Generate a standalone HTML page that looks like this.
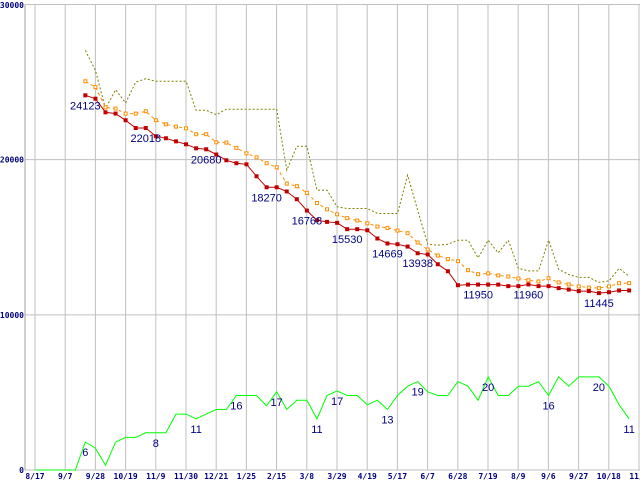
<!DOCTYPE html>
<html><head><meta charset="utf-8"><style>
html,body{margin:0;padding:0;background:#fff;width:640px;height:480px;overflow:hidden}
svg{display:block}
.ax{font-family:"DejaVu Sans Mono","Liberation Mono",monospace;font-size:8px;font-weight:bold;fill:#000080}
.lb{font-family:"Liberation Sans",sans-serif;font-size:11px;fill:#000080}
</style></head><body>
<svg id="chart" width="640" height="480" viewBox="0 0 640 480" xmlns="http://www.w3.org/2000/svg"></svg>
<script>
const xLabels=["8/17","9/7","9/28","10/19","11/9","11/30","12/21","1/25","2/15","3/8","3/29","4/19","5/17","6/7","6/28","7/19","8/9","9/6","9/27","10/18","11/1"];
const yTicks=[0,10000,20000,30000];
const startIndex=5;
const redValues=[24147,23930,23050,22970,22540,22040,22040,21510,21380,21180,20990,20730,20670,20330,19960,19770,19700,18930,18220,18220,17950,17450,16720,16100,15990,15930,15520,15520,15450,14920,14600,14550,14400,13970,13890,13260,12810,11910,11950,11950,11950,11950,11850,11850,11960,11850,11850,11720,11630,11530,11530,11400,11460,11570,11570];
const orangeValues=[25050,24680,23370,23290,22970,22970,23120,22540,22280,22130,22020,21640,21640,21120,21100,20760,20410,20150,19770,19510,18460,18290,17860,17210,16800,16480,16230,16080,15900,15690,15600,15430,15260,14660,14210,13820,13590,13460,12880,12620,12670,12540,12470,12340,12230,12150,12360,12090,11960,11830,11760,11720,11830,12040,12040];
const oliveValues=[27040,25760,23290,24510,23650,25000,25220,25050,25050,25050,25050,23180,23180,22900,23250,23250,23250,23250,23250,23250,19320,20860,20860,18030,18030,16960,16850,16850,16850,16530,16530,16530,19000,16740,14550,14490,14550,14810,14810,13670,14810,13990,14810,12990,12830,12830,14810,12940,12600,12410,12410,12090,12190,12990,12490];
const greenValues=[0,0,0,0,0,6,4.7,1,6,7,7,8,8,8,12,12,11,12,13,13,16,16,16,13.8,16.8,13,15,15,11,16,17,16,16,14,15,13,16,18,19,16.8,16,16,19,18,15,20,16,16,18,18,19,16,20,18,20,20,20,18,14,11];
const redLabelIdx=[5,11,17,23,27,31,35,38,44,49,56];
const redLabelText=["24123","22018","20680","18270","16768","15530","14669","13938","11950","11960","11445"];
const greenLabelIdx=[5,12,16,20,24,28,30,35,38,45,51,56,59];
const greenLabelText=["6","8","11","16","17","11","17","13","19","20","16","20","11"];
const greenScale=300;

const svg=document.getElementById('chart');
const NS='http://www.w3.org/2000/svg';
const X0=35,DX=10.07,Y0=470,YTOP=4.5,YMAX=30000;
function xPos(i){return X0+DX*i;}
function yPos(v){return Y0-(Y0-YTOP)*v/YMAX;}
function mk(tag,attrs){const e=document.createElementNS(NS,tag);for(const k in attrs)e.setAttribute(k,attrs[k]);svg.appendChild(e);return e;}

// grid
xLabels.forEach((t,k)=>{
  const x=X0+30.2*k;
  const g=mk('line',{x1:x,y1:YTOP,x2:x,y2:Y0,stroke:'#c0c0c0','stroke-width':1});
  
  
  const tx=mk('text',{x:x,y:479,'text-anchor':'middle',class:'ax'});
  tx.textContent=t;
  
  
});
yTicks.forEach(v=>{
  const y=yPos(v);
  const g=mk('line',{x1:25,y1:y,x2:640,y2:y,stroke:'#c0c0c0','stroke-width':1});
  
  
  const tx=mk('text',{x:24,y:Math.max(y+3,8),'text-anchor':'end',class:'ax'});
  tx.textContent=String(v);
  
  
});
const yax=mk('line',{x1:25,y1:YTOP,x2:25,y2:Y0,stroke:'#a0a0a0','stroke-width':1});



function pts(vals,off,scale){return vals.map((v,j)=>xPos(j+off).toFixed(1)+','+yPos(v*scale).toFixed(1)).join(' ');}

// olive
const ol=mk('polyline',{points:pts(oliveValues,startIndex,1),fill:'none',stroke:'#808000','stroke-width':1,'stroke-dasharray':'2,2'});


// orange
const orl=mk('polyline',{points:pts(orangeValues,startIndex,1),fill:'none',stroke:'#ff8c00','stroke-width':1,'stroke-dasharray':'3,3'});


orangeValues.forEach((v,j)=>{
  const r=mk('rect',{x:xPos(j+startIndex)-1.5,y:yPos(v)-1.5,width:3,height:3,fill:'#fff',stroke:'#ff8c00','stroke-width':1});
  
  
});
// red
const rl=mk('polyline',{points:pts(redValues,startIndex,1),fill:'none',stroke:'#c00000','stroke-width':1});


redValues.forEach((v,j)=>{
  const r=mk('rect',{x:xPos(j+startIndex)-2,y:yPos(v)-2,width:4,height:4,fill:'#c00000'});
  
  
});
// green
const gl=mk('polyline',{points:pts(greenValues,0,greenScale),fill:'none',stroke:'#00ff00','stroke-width':1});



redLabelIdx.forEach((i,k)=>{
  const t=mk('text',{x:xPos(i),y:yPos(redValues[i-startIndex])+14,'text-anchor':'middle',class:'lb'});
  t.textContent=redLabelText[k];
  
  
});
greenLabelIdx.forEach((i,k)=>{
  const t=mk('text',{x:xPos(i),y:yPos(greenValues[i]*greenScale)+14,'text-anchor':'middle',class:'lb'});
  t.textContent=greenLabelText[k];
  
  
});
</script>
</body></html>
